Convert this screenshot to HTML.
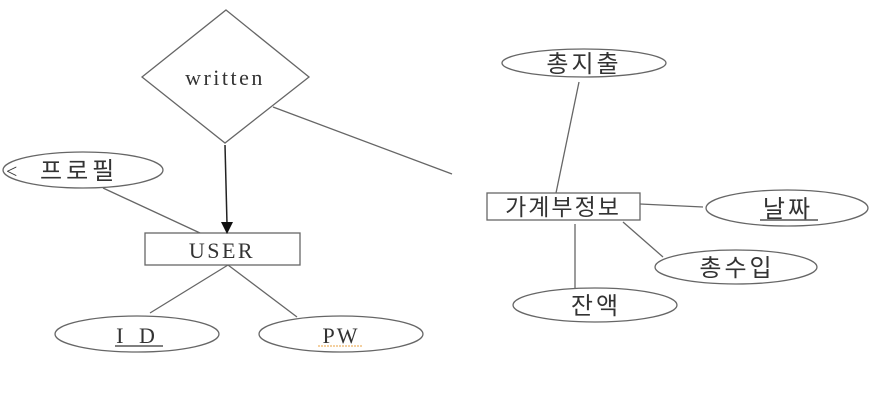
<!DOCTYPE html>
<html><head><meta charset="utf-8"><style>
html,body{margin:0;padding:0;background:#fff;}
svg{display:block;}
text{fill:#333;}
.s{font-family:"Liberation Serif","Noto Serif CJK SC",serif;}
.k{font-family:"Liberation Sans","Noto Sans CJK KR",sans-serif;}
</style></head><body>
<svg width="885" height="402" viewBox="0 0 885 402" xmlns="http://www.w3.org/2000/svg">
<g stroke="#666" stroke-width="1.3" fill="none">
<polygon points="226,10 309,77 225,143 142,77" fill="#fff"/>
<line x1="273" y1="107" x2="452" y2="174"/>
<line x1="103" y1="188" x2="200" y2="233"/>
<line x1="228" y1="265" x2="150" y2="313"/>
<line x1="228" y1="265" x2="297" y2="317"/>
<rect x="145" y="233" width="155" height="32" fill="#fff"/>
<ellipse cx="83" cy="170" rx="80" ry="18" fill="#fff"/>
<ellipse cx="137" cy="334" rx="82" ry="18" fill="#fff"/>
<ellipse cx="341" cy="334" rx="82" ry="18" fill="#fff"/>
<line x1="579" y1="82" x2="556" y2="193"/>
<line x1="640" y1="204" x2="703" y2="207"/>
<line x1="623" y1="222" x2="663" y2="257"/>
<line x1="575" y1="224" x2="575" y2="288"/>
<ellipse cx="584" cy="63" rx="82" ry="14" fill="#fff"/>
<rect x="487" y="193" width="153" height="27" fill="#fff"/>
<ellipse cx="787" cy="208" rx="81" ry="18" fill="#fff"/>
<ellipse cx="736" cy="267" rx="81" ry="17" fill="#fff"/>
<ellipse cx="595" cy="305" rx="82" ry="17" fill="#fff"/>
</g>
<line x1="225" y1="145" x2="227" y2="224" stroke="#222" stroke-width="1.5"/>
<polygon points="221,222 233,222 227,234" fill="#111"/>
<text class="s" x="225" y="85" font-size="22" text-anchor="middle" letter-spacing="2.5">written</text>
<text class="s" x="222" y="258" font-size="22" text-anchor="middle" letter-spacing="2.5">USER</text>
<text class="s" x="6" y="178" font-size="20">&lt;</text>
<text class="k" x="40" y="179" font-size="24" letter-spacing="4">프로필</text>
<text class="s" x="138" y="343" font-size="22" text-anchor="middle" letter-spacing="5">I D</text>
<line x1="115" y1="346" x2="163" y2="346" stroke="#333" stroke-width="1.2"/>
<text class="s" x="341" y="343" font-size="22" text-anchor="middle" letter-spacing="2">PW</text>
<line x1="318" y1="346" x2="362" y2="346" stroke="#e8a040" stroke-width="1" stroke-dasharray="2,1"/>
<text class="k" x="584" y="72" font-size="24" text-anchor="middle" letter-spacing="3">총지출</text>
<text class="k" x="563" y="215" font-size="23" text-anchor="middle" letter-spacing="2">가계부정보</text>
<text class="k" x="788" y="217" font-size="24" text-anchor="middle" letter-spacing="3">날짜</text>
<line x1="760" y1="220" x2="818" y2="220" stroke="#333" stroke-width="1.2"/>
<text class="k" x="737" y="276" font-size="24" text-anchor="middle" letter-spacing="3">총수입</text>
<text class="k" x="596" y="314" font-size="24" text-anchor="middle" letter-spacing="3">잔액</text>
</svg>
</body></html>
